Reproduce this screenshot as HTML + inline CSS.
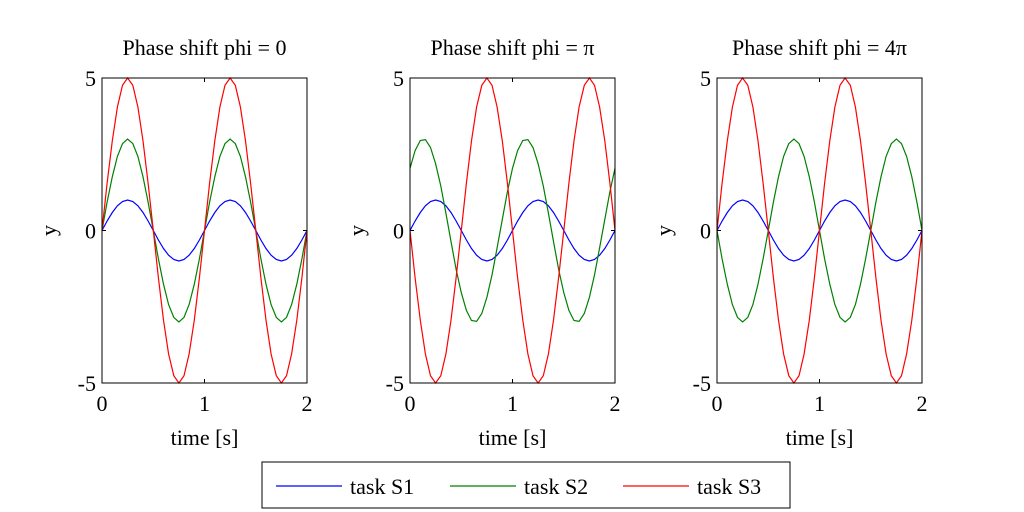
<!DOCTYPE html>
<html><head><meta charset="utf-8"><style>
body{margin:0;background:#fff;}
svg{display:block;font-family:"Liberation Serif",serif;}
</style></head><body>
<svg id="fig" width="1024" height="512" xmlns="http://www.w3.org/2000/svg"></svg>
<script>
const tVals=[0,0.05,0.1,0.15,0.2,0.25,0.3,0.35,0.4,0.45,0.5,0.55,0.6,0.65,0.7,0.75,0.8,0.85,0.9,0.95,1,1.05,1.1,1.15,1.2,1.25,1.3,1.35,1.4,1.45,1.5,1.55,1.6,1.65,1.7,1.75,1.8,1.85,1.9,1.95,2];
const s1=[0,.31,.59,.81,.95,1,.95,.81,.59,.31,0,-.31,-.59,-.81,-.95,-1,-.95,-.81,-.59,-.31,0,.31,.59,.81,.95,1,.95,.81,.59,.31,0,-.31,-.59,-.81,-.95,-1,-.95,-.81,-.59,-.31,0];
const s2a=[0,.93,1.76,2.43,2.85,3,2.85,2.43,1.76,.93,0,-.93,-1.76,-2.43,-2.85,-3,-2.85,-2.43,-1.76,-.93,0,.93,1.76,2.43,2.85,3,2.85,2.43,1.76,.93,0,-.93,-1.76,-2.43,-2.85,-3,-2.85,-2.43,-1.76,-.93,0];
const s3a=[0,1.55,2.94,4.05,4.76,5,4.76,4.05,2.94,1.55,0,-1.55,-2.94,-4.05,-4.76,-5,-4.76,-4.05,-2.94,-1.55,0,1.55,2.94,4.05,4.76,5,4.76,4.05,2.94,1.55,0,-1.55,-2.94,-4.05,-4.76,-5,-4.76,-4.05,-2.94,-1.55,0];
const s2b=[2.04,2.62,2.95,2.98,2.72,2.19,1.46,.57,-.36,-1.27,-2.04,-2.62,-2.95,-2.98,-2.72,-2.19,-1.46,-.57,.36,1.27,2.04,2.62,2.95,2.98,2.72,2.19,1.46,.57,-.36,-1.27,-2.04,-2.62,-2.95,-2.98,-2.72,-2.19,-1.46,-.57,.36,1.27,2.04];
const s3b=[0,-1.55,-2.94,-4.05,-4.76,-5,-4.76,-4.05,-2.94,-1.55,0,1.55,2.94,4.05,4.76,5,4.76,4.05,2.94,1.55,0,-1.55,-2.94,-4.05,-4.76,-5,-4.76,-4.05,-2.94,-1.55,0,1.55,2.94,4.05,4.76,5,4.76,4.05,2.94,1.55,0];
const s2c=[0,-.93,-1.76,-2.43,-2.85,-3,-2.85,-2.43,-1.76,-.93,0,.93,1.76,2.43,2.85,3,2.85,2.43,1.76,.93,0,-.93,-1.76,-2.43,-2.85,-3,-2.85,-2.43,-1.76,-.93,0,.93,1.76,2.43,2.85,3,2.85,2.43,1.76,.93,0];
const titles=["Phase shift phi = 0","Phase shift phi = \u03c0","Phase shift phi = 4\u03c0"];
const xTicks=[0,1,2];
const yTicks=[-5,0,5];
const seriesNames=["task S1","task S2","task S3"];
const colors=["#0000ff","#008000","#ff0000"];
const panelData=[[s1,s2a,s3a],[s1,s2b,s3b],[s1,s2c,s3a]];
const lefts=[102,410,717], W=205, plotTop=78, H=305;
const NS="http://www.w3.org/2000/svg";
const svg=document.getElementById('fig');
function mk(tag,attrs,parent){const e=document.createElementNS(NS,tag);for(const k in attrs)e.setAttribute(k,attrs[k]);(parent||svg).appendChild(e);return e;}
panelData.forEach((series,p)=>{
  const L=lefts[p];
  const g=mk('g',{});
  
  
  const xs=v=>L+v/2*W, ys=v=>plotTop+(5-v)/10*H;
  series.forEach((arr,i)=>{
    const d=arr.map((v,j)=>(j?'L':'M')+xs(tVals[j]).toFixed(1)+' '+ys(v).toFixed(1)).join('');
    const path=mk('path',{d:d,fill:'none',stroke:colors[i],'stroke-width':1.2},g);
    
    
  });
  const box=mk('rect',{x:L,y:plotTop,width:W,height:H,fill:'none',stroke:'#000','stroke-width':1},g);
  
  
  xTicks.forEach(v=>{
    const x=xs(v);
    mk('line',{x1:x,y1:plotTop+H,x2:x,y2:plotTop+H-4,stroke:'#000'},g);
    mk('line',{x1:x,y1:plotTop,x2:x,y2:plotTop+4,stroke:'#000'},g);
    const t=mk('text',{x:x,y:plotTop+H+28,'text-anchor':'middle','font-size':22},g);
    t.textContent=v;
    
    
  });
  yTicks.forEach(v=>{
    const y=ys(v);
    mk('line',{x1:L,y1:y,x2:L+4,y2:y,stroke:'#000'},g);
    mk('line',{x1:L+W,y1:y,x2:L+W-4,y2:y,stroke:'#000'},g);
    const t=mk('text',{x:L-6,y:y+8,'text-anchor':'end','font-size':22},g);
    t.textContent=v;
    
    
  });
  const tt=mk('text',{x:L+W/2,y:55,'text-anchor':'middle','font-size':22},g);
  tt.textContent=titles[p];
  
  
  const xl=mk('text',{x:L+W/2,y:445,'text-anchor':'middle','font-size':22},g);
  xl.textContent='time [s]';
  
  
  const yl=mk('text',{x:0,y:0,'text-anchor':'middle','font-size':22,transform:'translate('+(L-46)+','+(plotTop+H/2)+') rotate(-90)'},g);
  yl.textContent='y';
  
  
});
const lg=mk('g',{});


mk('rect',{x:262,y:462,width:528,height:46,fill:'#fff',stroke:'#000'},lg);
const lx=[276,450,623];
seriesNames.forEach((n,i)=>{
  const e=mk('g',{},lg);
  
  
  mk('line',{x1:lx[i],y1:486,x2:lx[i]+66,y2:486,stroke:colors[i],'stroke-width':1.2},e);
  const t=mk('text',{x:lx[i]+74,y:494,'font-size':22},e);
  t.textContent=n;
});
</script>
</body></html>
